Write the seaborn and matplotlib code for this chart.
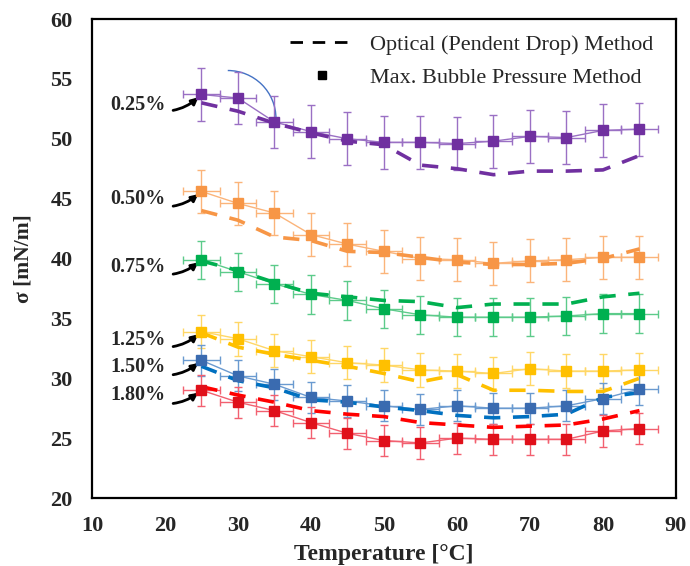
import matplotlib.pyplot as plt
import matplotlib.patches as mpatches
from matplotlib.lines import Line2D
import pandas as pd
import seaborn as sns

# data
temps = [25, 30, 35, 40, 45, 50, 55, 60, 65, 70, 75, 80, 85]
concs = ["0.25%", "0.50%", "0.75%", "1.25%", "1.50%", "1.80%"]

bubble_025 = [53.7, 53.4, 51.4, 50.6, 50.0, 49.7, 49.7, 49.6, 49.8, 50.2, 50.1, 50.7, 50.8]
bubble_050 = [45.6, 44.6, 43.8, 42.0, 41.2, 40.6, 40.0, 39.9, 39.6, 39.8, 39.9, 40.1, 40.1]
bubble_075 = [39.9, 38.9, 37.9, 37.0, 36.5, 35.8, 35.3, 35.1, 35.1, 35.1, 35.2, 35.4, 35.4]
bubble_125 = [33.9, 33.3, 32.3, 31.8, 31.3, 31.1, 30.7, 30.6, 30.4, 30.8, 30.6, 30.6, 30.7]
bubble_150 = [31.5, 30.2, 29.5, 28.4, 28.1, 27.7, 27.4, 27.7, 27.5, 27.5, 27.7, 28.3, 29.1]
bubble_180 = [29.0, 28.0, 27.3, 26.3, 25.4, 24.8, 24.6, 25.0, 24.9, 24.9, 24.9, 25.6, 25.8]

optical_025 = [53.0, 52.3, 51.3, 50.5, 49.8, 49.5, 47.8, 47.5, 47.0, 47.3, 47.3, 47.4, 48.6]
optical_050 = [44.0, 43.2, 41.8, 41.5, 40.6, 40.5, 40.1, 39.7, 39.5, 39.5, 39.6, 40.0, 40.8]
optical_075 = [39.8, 39.0, 38.0, 37.1, 36.8, 36.5, 36.4, 35.9, 36.2, 36.2, 36.2, 36.8, 37.1]
optical_125 = [33.8, 32.6, 32.0, 31.5, 31.0, 30.4, 29.7, 30.3, 29.0, 29.0, 28.9, 28.9, 30.0]
optical_150 = [31.0, 29.8, 29.2, 28.2, 28.0, 27.6, 27.3, 26.9, 26.7, 26.8, 27.0, 28.4, 28.8]
optical_180 = [29.3, 28.6, 28.0, 27.3, 27.0, 26.8, 26.3, 26.1, 25.9, 26.0, 26.1, 26.6, 27.3]

y_err = [2.2, 1.8, 1.6, 1.4, 1.3, 1.3]
x_err = 2.5

bubble = [bubble_025, bubble_050, bubble_075, bubble_125, bubble_150, bubble_180]
optical = [optical_025, optical_050, optical_075, optical_125, optical_150, optical_180]

line_colors = ["#7030A0", "#F79646", "#00B050", "#FFC000", "#0070C0", "#FF0000"]
marker_colors = ["#7030A0", "#F79646", "#00B050", "#FFC000", "#3A6BB0", "#E0101A"]
err_colors = ["#9A70C4", "#FBB47A", "#5CCB8A", "#FFD766", "#6A9AD0", "#F26070"]

sns.set_style("white")
plt.rcParams["font.family"] = ["Liberation Serif", "DejaVu Serif"]

fig = plt.figure(figsize=(6.9, 5.66), dpi=100)
ax = fig.add_axes([0.1333, 0.1201, 0.8464, 0.8463])

rows = []
for c, vals in zip(concs, optical):
    for t, v in zip(temps, vals):
        rows.append({"T": t, "sigma": v, "conc": c})
df_opt = pd.DataFrame(rows)

for i, c in enumerate(concs):
    ax.errorbar(temps, bubble[i], yerr=y_err[i], xerr=x_err, fmt="none",
                ecolor=err_colors[i], elinewidth=1, capsize=3, zorder=2)
    ax.plot(temps, bubble[i], color=err_colors[i], lw=1, zorder=3)
    ax.plot(temps, bubble[i], ls="none", marker="s", ms=6.5,
            mfc=marker_colors[i], mec=marker_colors[i], zorder=5)

sns.lineplot(data=df_opt, x="T", y="sigma", hue="conc", palette=line_colors,
             ax=ax, legend=False, lw=2.6, zorder=4)
for line in ax.get_lines()[-6:]:
    line.set_dashes([4.5, 3.5])

# concentration labels with curved arrows
label_y = [52.85, 44.95, 39.3, 33.2, 30.9, 28.6]
for c, vals, ly in zip(concs, bubble, label_y):
    ax.annotate(c, xy=(25, vals[0]), xytext=(20.1, ly), ha="right", va="center",
                fontsize=14.5, fontweight="bold",
                arrowprops=dict(arrowstyle="-|>", color="black", lw=2,
                                mutation_scale=10, shrinkA=3, shrinkB=3,
                                connectionstyle="arc3,rad=0.35"))

# thin blue arc near the top series
ax.add_patch(mpatches.Arc((28.6, 51.7), 13.2, 8.0, theta1=0, theta2=90,
                          color="#4472C4", lw=1))

ax.set_xlim(10, 90)
ax.set_ylim(20, 60)
ax.set_xticks(range(10, 91, 10))
ax.set_xticks(range(15, 90, 10), minor=True)
ax.set_yticks(range(20, 61, 5))
ax.tick_params(axis="both", which="both", direction="in", length=5, width=1,
               labelsize=16)
ax.tick_params(axis="x", which="major", pad=13)
ax.tick_params(axis="y", which="major", pad=14)
ax.tick_params(axis="x", which="minor", length=4)
for lab in ax.get_xticklabels() + ax.get_yticklabels():
    lab.set_fontweight("bold")
for s in ax.spines.values():
    s.set_color("black")
    s.set_linewidth(1.6)

ax.set_xlabel("Temperature [°C]", fontsize=17, fontweight="bold", labelpad=6)
ax.set_ylabel("σ [mN/m]", fontsize=15.5, fontweight="bold", labelpad=12)

handles = [Line2D([], [], color="black", lw=2, dashes=[4.5, 3.5]),
           Line2D([], [], color="black", ls="none", marker="s", ms=6)]
ax.legend(handles, ["Optical (Pendent Drop) Method", "Max. Bubble Pressure Method"],
          loc="upper right", bbox_to_anchor=(0.996, 1.01), frameon=False,
          fontsize=16, handlelength=2.8, labelspacing=0.55)

fig.savefig("out.png", dpi=100)
